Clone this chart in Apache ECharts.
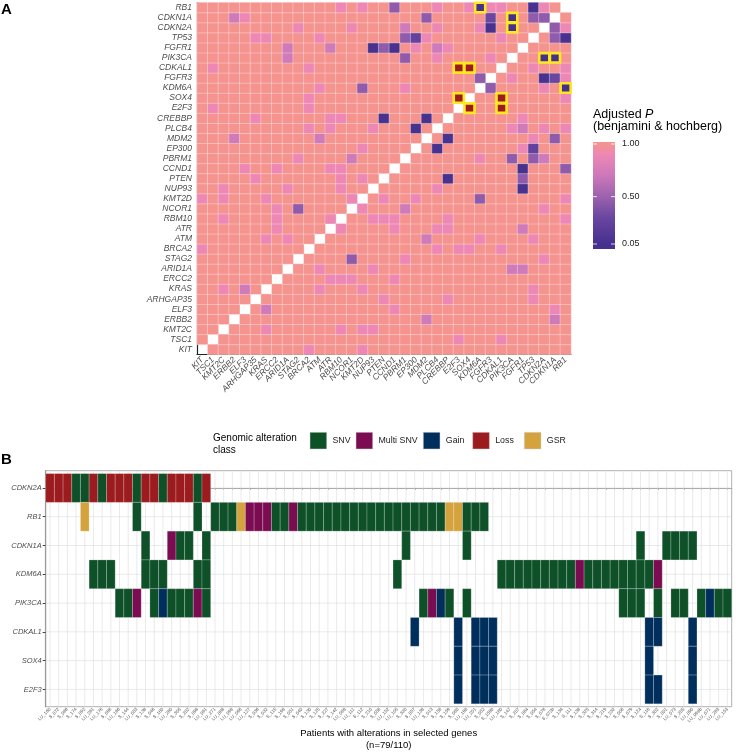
<!DOCTYPE html>
<html><head><meta charset="utf-8">
<script src="https://cdn.jsdelivr.net/npm/echarts@6/dist/echarts.min.js"></script>
<style>html,body{margin:0;padding:0;background:#fff}#c{width:736px;height:752px}</style>
</head><body><div id="c"></div>
<script>
// ---------- Panel A data ----------
const genes = ['RB1','CDKN1A','CDKN2A','TP53','FGFR1','PIK3CA','CDKAL1','FGFR3','KDM6A','SOX4','E2F3','CREBBP','PLCB4','MDM2','EP300','PBRM1','CCND1','PTEN','NUP93','KMT2D','NCOR1','RBM10','ATR','ATM','BRCA2','STAG2','ARID1A','ERCC2','KRAS','ARHGAP35','ELF3','ERBB2','KMT2C','TSC1','KIT'];
// adjusted P for gene pairs (all other pairs = 1.00)
const pairValues = [
 ['RB1','RBM10',0.9],['RB1','KMT2D',0.9],['RB1','CCND1',0.45],['RB1','PLCB4',0.9],['RB1','SOX4',0.9],['RB1','KDM6A',0.05],['RB1','FGFR3',0.9],['RB1','CDKAL1',0.9],['RB1','TP53',0.07],['RB1','CDKN2A',0.9],
 ['CDKN1A','ERBB2',0.72],['CDKN1A','ELF3',0.9],['CDKN1A','MDM2',0.45],['CDKN1A','FGFR3',0.3],['CDKN1A','PIK3CA',0.05],['CDKN1A','TP53',0.45],['CDKN1A','CDKN2A',0.45],
 ['CDKN2A','STAG2',0.9],['CDKN2A','NCOR1',0.9],['CDKN2A','PBRM1',0.72],['CDKN2A','PLCB4',0.9],['CDKN2A','KDM6A',0.9],['CDKN2A','FGFR3',0.07],['CDKN2A','PIK3CA',0.05],
 ['TP53','ARHGAP35',0.9],['TP53','KRAS',0.9],['TP53','ATM',0.9],['TP53','PBRM1',0.45],['TP53','EP300',0.25],['TP53','MDM2',0.9],['TP53','CDKAL1',0.9],
 ['FGFR1','ARID1A',0.72],['FGFR1','ATR',0.72],['FGFR1','NUP93',0.07],['FGFR1','PTEN',0.45],['FGFR1','CCND1',0.07],['FGFR1','EP300',0.9],['FGFR1','PLCB4',0.72],['FGFR1','CREBBP',0.9],
 ['PIK3CA','ARID1A',0.72],['PIK3CA','PBRM1',0.45],['PIK3CA','PLCB4',0.9],['PIK3CA','FGFR3',0.9],
 ['CDKAL1','TSC1',0.9],['CDKAL1','BRCA2',0.9],['CDKAL1','E2F3',0.01],['CDKAL1','SOX4',0.01],
 ['FGFR3','KDM6A',0.45],
 ['KDM6A','ATM',0.9],['KDM6A','KMT2D',0.45],['KDM6A','PBRM1',0.9],
 ['SOX4','BRCA2',0.9],['SOX4','E2F3',0.01],
 ['E2F3','TSC1',0.9],['E2F3','BRCA2',0.9],
 ['CREBBP','ARHGAP35',0.9],['CREBBP','ATR',0.9],['CREBBP','RBM10',0.9],['CREBBP','PTEN',0.07],['CREBBP','MDM2',0.07],
 ['PLCB4','BRCA2',0.9],['PLCB4','ATR',0.9],['PLCB4','NUP93',0.9],['PLCB4','EP300',0.07],
 ['MDM2','ERBB2',0.72],['MDM2','ATM',0.72],
 ['EP300','KMT2D',0.9],
 ['PBRM1','STAG2',0.9],['PBRM1','NCOR1',0.72],
 ['CCND1','ELF3',0.9],['CCND1','ERCC2',0.9],['CCND1','RBM10',0.9],['CCND1','ATR',0.9],
 ['PTEN','ARHGAP35',0.9],['PTEN','RBM10',0.9],['PTEN','KMT2D',0.9],
 ['NUP93','KMT2C',0.9],['NUP93','ARID1A',0.9],['NUP93','RBM10',0.9],
 ['KMT2D','KIT',0.9],['KMT2D','NCOR1',0.9],['KMT2D','KMT2C',0.9],['KMT2D','KRAS',0.9],
 ['NCOR1','STAG2',0.45],['NCOR1','ERCC2',0.9],
 ['RBM10','ATR',0.9],['RBM10','ERCC2',0.9],['RBM10','KMT2C',0.9],
 ['ATR','ERCC2',0.9],
 ['ATM','KRAS',0.9],['ATM','ARID1A',0.9],
 ['BRCA2','KIT',0.9],
 ['KRAS','KMT2C',0.9],['KRAS','ELF3',0.72]
];
const coOccurPairs = [['CDKAL1','E2F3'],['CDKAL1','SOX4'],['SOX4','E2F3']];
const boxedPairs = [['RB1','KDM6A'],['CDKN1A','PIK3CA'],['CDKN2A','PIK3CA'],['CDKAL1','E2F3'],['CDKAL1','SOX4'],['SOX4','E2F3']];
const legendTicks = [1.00, 0.50, 0.05];

// ---------- Panel B data ----------
const oncoGenes = ['CDKN2A','RB1','CDKN1A','KDM6A','PIK3CA','CDKAL1','SOX4','E2F3'];
const altClasses = ['SNV','Multi SNV','Gain','Loss','GSR'];
const patients = ['LU_160','S_072','S_086','S_174','S_092','LU_261','LU_178','S_098','LU_166','S_144','LU_053','S_138','S_046','S_180','LU_260','S_305','S_202','S_096','LU_061','LU_271','LU_086','LU_098','LU_096','LU_127','S_036','S_032','S_115','S_198','S_051','S_040','S_130','S_125','S_227','S_142','LU_088','LU_111','S_112','S_210','S_056','LU_152','LU_105','S_320','S_057','LU_138','S_013','S_156','S_159','S_080','LU_196','LU_201','S_052','S_159b','LU_180','S_147','S_207','S_064','S_054','S_078','S_072b','S_134','S_111','S_136','S_325','S_314','S_219','S_232','S_006','S_079','S_124','S_118','S_302','S_001','LU_073','S_205','LU_090','LU_098b','LU_071','LU_263','LU_153'];
const altCDKN2A = [[0,'Loss'],[1,'Loss'],[2,'Loss'],[3,'SNV'],[4,'SNV'],[5,'Loss'],[6,'SNV'],[7,'Loss'],[8,'Loss'],[9,'Loss'],[10,'SNV'],[11,'Loss'],[12,'Loss'],[13,'SNV'],[14,'Loss'],[15,'Loss'],[16,'Loss'],[17,'SNV'],[18,'Loss']];
const altRB1 = [[4,'GSR'],[10,'SNV'],[17,'SNV'],[19,'SNV'],[20,'SNV'],[21,'SNV'],[22,'GSR'],[23,'Multi SNV'],[24,'Multi SNV'],[25,'Multi SNV'],[26,'SNV'],[27,'SNV'],[28,'Multi SNV'],[29,'SNV'],[30,'SNV'],[31,'SNV'],[32,'SNV'],[33,'SNV'],[34,'SNV'],[35,'SNV'],[36,'SNV'],[37,'SNV'],[38,'SNV'],[39,'SNV'],[40,'SNV'],[41,'SNV'],[42,'SNV'],[43,'SNV'],[44,'SNV'],[45,'SNV'],[46,'GSR'],[47,'GSR'],[48,'SNV'],[49,'SNV'],[50,'SNV']];
const altCDKN1A = [[11,'SNV'],[14,'Multi SNV'],[15,'SNV'],[16,'SNV'],[18,'SNV'],[41,'SNV'],[48,'SNV'],[68,'SNV'],[71,'SNV'],[72,'SNV'],[73,'SNV'],[74,'SNV']];
const altKDM6A = [[5,'SNV'],[6,'SNV'],[7,'SNV'],[11,'SNV'],[12,'SNV'],[13,'SNV'],[17,'SNV'],[18,'SNV'],[40,'SNV'],[52,'SNV'],[53,'SNV'],[54,'SNV'],[55,'SNV'],[56,'SNV'],[57,'SNV'],[58,'SNV'],[59,'SNV'],[60,'SNV'],[61,'Multi SNV'],[62,'SNV'],[63,'SNV'],[64,'SNV'],[65,'SNV'],[66,'SNV'],[67,'SNV'],[68,'SNV'],[69,'SNV'],[70,'Multi SNV']];
const altPIK3CA = [[8,'SNV'],[9,'SNV'],[10,'Multi SNV'],[12,'SNV'],[13,'Gain'],[14,'SNV'],[15,'SNV'],[16,'SNV'],[17,'Multi SNV'],[18,'SNV'],[43,'SNV'],[44,'Multi SNV'],[45,'Gain'],[46,'SNV'],[48,'SNV'],[66,'SNV'],[67,'SNV'],[68,'SNV'],[70,'SNV'],[72,'SNV'],[73,'SNV'],[75,'SNV'],[76,'Gain'],[77,'SNV'],[78,'SNV']];
const altCDKAL1 = [[42,'Gain'],[47,'Gain'],[49,'Gain'],[50,'Gain'],[51,'Gain'],[69,'Gain'],[70,'Gain'],[74,'Gain']];
const altSOX4 = [[47,'Gain'],[49,'Gain'],[50,'Gain'],[51,'Gain'],[69,'Gain'],[74,'Gain']];
const altE2F3 = [[47,'Gain'],[49,'Gain'],[50,'Gain'],[51,'Gain'],[69,'Gain'],[70,'Gain'],[74,'Gain']];

// ---------- build ----------
const FONT = "'Liberation Sans', Arial, Helvetica, sans-serif";
const classColor = {'SNV':'#0E5129','Multi SNV':'#7B0C52','Gain':'#002F5E','Loss':'#9B1B1F','GSR':'#D4A33D'};
const colorStops = [[0.05,'#45308F'],[0.3,'#6A46A0'],[0.5,'#9C62AE'],[0.7,'#CC78BA'],[0.9,'#ED88B4'],[1.0,'#F5938F']];
function hex2rgb(h){return [parseInt(h.substr(1,2),16),parseInt(h.substr(3,2),16),parseInt(h.substr(5,2),16)];}
function interp(p){
  if(p<=colorStops[0][0]) return colorStops[0][1];
  for(let i=1;i<colorStops.length;i++){
    if(p<=colorStops[i][0]){
      const [p0,c0]=colorStops[i-1],[p1,c1]=colorStops[i];
      const t=(p-p0)/(p1-p0),a=hex2rgb(c0),b=hex2rgb(c1);
      return 'rgb('+a.map((v,k)=>Math.round(v+(b[k]-v)*t)).join(',')+')';
    }
  }
  return colorStops[colorStops.length-1][1];
}
const vmColors=[];for(let i=0;i<=95;i++)vmColors.push(interp(0.05+0.95*i/95));

const axisGenes = genes.slice().reverse();
const ai = g => axisGenes.indexOf(g);
const valMap = {};
pairValues.forEach(([a,b,v])=>{valMap[a+'|'+b]=v;valMap[b+'|'+a]=v;});
const heatData=[];
for(let x=0;x<axisGenes.length;x++)for(let y=0;y<axisGenes.length;y++){
  if(x===y)continue;
  const k=axisGenes[y]+'|'+axisGenes[x];
  heatData.push([x,y,valMap[k]!==undefined?valMap[k]:1]);
}
const coKey={};coOccurPairs.forEach(([a,b])=>{coKey[a+'|'+b]=1;coKey[b+'|'+a]=1;});
const overlayData=[];
boxedPairs.forEach(([a,b])=>{
  const red=coKey[a+'|'+b]?1:0;
  overlayData.push([ai(b),ai(a),red]);overlayData.push([ai(a),ai(b),red]);
});

const altByGene={CDKN2A:altCDKN2A,RB1:altRB1,CDKN1A:altCDKN1A,KDM6A:altKDM6A,PIK3CA:altPIK3CA,CDKAL1:altCDKAL1,SOX4:altSOX4,E2F3:altE2F3};
const oncoData=[];
oncoGenes.forEach((g,i)=>altByGene[g].forEach(([j,c])=>oncoData.push([j,i,altClasses.indexOf(c)])));
const patTicks=patients.map((_,j)=>j+0.5);
const geneTicks=oncoGenes.map((_,i)=>i);

// legend graphics
const legendX=593;
function yOfP(p){return 144+(1-p)/0.95*100;}
const barTop=142,barBot=249;
const gradStops=colorStops.map(([p,c])=>({offset:Math.min(1,Math.max(0,(yOfP(p)-barTop)/(barBot-barTop))),color:c})).sort((a,b)=>a.offset-b.offset);
const graphics=[
  {type:'text',left:1,top:2,style:{text:'A',font:'bold 15px '+FONT,fill:'#000'}},
  {type:'text',left:1,top:452,style:{text:'B',font:'bold 15px '+FONT,fill:'#000'}},
  {type:'text',x:legendX,y:115,style:{text:'{n|Adjusted }{i|P}',rich:{n:{font:'12.5px '+FONT,fill:'#000'},i:{font:'italic 12.5px '+FONT,fill:'#000'}},verticalAlign:'middle'}},
  {type:'text',x:legendX,y:127,style:{text:'(benjamini & hochberg)',font:'12.5px '+FONT,fill:'#000',verticalAlign:'middle'}},
  {type:'rect',shape:{x:legendX,y:barTop,width:22,height:barBot-barTop},style:{fill:{type:'linear',x:0,y:0,x2:0,y2:1,colorStops:gradStops}}}
];
legendTicks.forEach(p=>{
  const y=yOfP(p);
  graphics.push({type:'line',shape:{x1:legendX,y1:y,x2:legendX+4,y2:y},style:{stroke:'#fff',lineWidth:0.8}});
  graphics.push({type:'line',shape:{x1:legendX+18,y1:y,x2:legendX+22,y2:y},style:{stroke:'#fff',lineWidth:0.8}});
  graphics.push({type:'text',x:622,y:y,style:{text:p.toFixed(2),font:'9px '+FONT,fill:'#222',verticalAlign:'middle'}});
});
// bottom legend
graphics.push({type:'text',x:213,y:438,style:{text:'Genomic alteration',font:'10px '+FONT,fill:'#000',verticalAlign:'middle'}});
graphics.push({type:'text',x:213,y:450,style:{text:'class',font:'10px '+FONT,fill:'#000',verticalAlign:'middle'}});
const keyX=[310,356,423.3,472.7,524.3];
altClasses.forEach((c,i)=>{
  graphics.push({type:'rect',shape:{x:keyX[i],y:432.3,width:16.7,height:16.7},style:{fill:classColor[c],stroke:'#d0d0d0',lineWidth:0.5}});
  graphics.push({type:'text',x:keyX[i]+22.5,y:440.7,style:{text:c,font:'8.8px '+FONT,fill:'#222',verticalAlign:'middle'}});
});
graphics.push({type:'text',x:388.7,y:733,style:{text:'Patients with alterations in selected genes',font:'9.5px '+FONT,fill:'#000',align:'center',verticalAlign:'middle'}});
graphics.push({type:'text',x:388.7,y:745,style:{text:'(n=79/110)',font:'9.5px '+FONT,fill:'#000',align:'center',verticalAlign:'middle'}});

const option={
  animation:false,
  backgroundColor:'#fff',
  textStyle:{fontFamily:FONT},
  grid:[
    {left:197,top:2.5,width:374,height:352,containLabel:false},
    {left:45.7,top:470.7,width:686,height:236,show:true,borderColor:'#B0B0B0',borderWidth:1,backgroundColor:'#fff'}
  ],
  xAxis:[
    {type:'category',gridIndex:0,data:axisGenes,axisLine:{lineStyle:{color:'#222',width:1.2}},axisTick:{alignWithLabel:true,length:3,lineStyle:{color:'#333'}},
     axisLabel:{interval:0,rotate:45,fontSize:8.5,fontStyle:'italic',color:'#4D4D4D',margin:4,fontFamily:FONT},splitLine:{show:false}},
    {type:'value',gridIndex:1,min:0,max:patients.length,axisLine:{show:true,lineStyle:{color:'#9A9A9A',width:1.2}},
     axisTick:{show:true,length:2,customValues:patTicks,lineStyle:{color:'#666',width:0.5}},
     axisLabel:{customValues:patTicks,rotate:45,fontSize:4.5,color:'#4D4D4D',margin:2,fontFamily:FONT,formatter:v=>patients[Math.round(v-0.5)]||''},splitLine:{show:false}}
  ],
  yAxis:[
    {type:'category',gridIndex:0,data:axisGenes,axisLine:{lineStyle:{color:'#222',width:1.2}},axisTick:{alignWithLabel:true,length:3,lineStyle:{color:'#333'}},
     axisLabel:{interval:0,fontSize:8.5,fontStyle:'italic',color:'#4D4D4D',margin:5,fontFamily:FONT},splitLine:{show:false}},
    {type:'value',gridIndex:1,min:-0.6,max:oncoGenes.length-0.4,inverse:true,axisLine:{show:true,lineStyle:{color:'#9A9A9A',width:1.2}},
     axisTick:{show:true,length:3,customValues:geneTicks,lineStyle:{color:'#444'}},
     axisLabel:{customValues:geneTicks,fontSize:7.5,fontStyle:'italic',color:'#4D4D4D',margin:4,fontFamily:FONT,formatter:v=>oncoGenes[Math.round(v)]||''},splitLine:{show:false}}
  ],
  visualMap:{type:'continuous',show:false,min:0.05,max:1,seriesIndex:0,dimension:2,inRange:{color:vmColors}},
  series:[
    {type:'heatmap',xAxisIndex:0,yAxisIndex:0,data:heatData,itemStyle:{borderColor:'rgba(255,255,255,0.45)',borderWidth:0.7},emphasis:{disabled:true}},
    {type:'custom',xAxisIndex:0,yAxisIndex:0,data:overlayData,z:5,
     renderItem:(params,api)=>{
       const c=api.coord([api.value(0),api.value(1)]),s=api.size([1,1]);
       return {type:'rect',shape:{x:c[0]-s[0]/2+0.3,y:c[1]-s[1]/2+0.3,width:s[0]-0.6,height:s[1]-0.6},
         style:{fill:api.value(2)?'#9B1B1F':null,stroke:'#FFE81F',lineWidth:2.6}};
     }},
    {type:'custom',xAxisIndex:1,yAxisIndex:1,data:[[0]],z:1,silent:true,
     renderItem:(params,api)=>{
       const ch=[];
       patTicks.forEach(x=>{const a=api.coord([x,-0.6]),b=api.coord([x,oncoGenes.length-0.4]);ch.push({type:'line',shape:{x1:a[0],y1:a[1],x2:b[0],y2:b[1]},style:{stroke:'#DCDCDC',lineWidth:0.6}});});
       geneTicks.forEach(y=>{const a=api.coord([0,y]),b=api.coord([patients.length,y]);ch.push({type:'line',shape:{x1:a[0],y1:a[1],x2:b[0],y2:b[1]},style:{stroke:'#DCDCDC',lineWidth:0.6}});});
       return {type:'group',children:ch};
     }},
    {type:'custom',xAxisIndex:1,yAxisIndex:1,data:oncoData,z:3,
     renderItem:(params,api)=>{
       const j=api.value(0),i=api.value(1),k=api.value(2);
       const a=api.coord([j,i-0.5]),b=api.coord([j+1,i+0.5]);
       return {type:'rect',shape:{x:Math.min(a[0],b[0]),y:Math.min(a[1],b[1]),width:Math.abs(b[0]-a[0]),height:Math.abs(b[1]-a[1])},
         style:{fill:classColor[altClasses[k]],stroke:'rgba(255,255,255,0.35)',lineWidth:0.6}};
     }}
  ],
  graphic:graphics
};
const chart=echarts.init(document.getElementById('c'));
chart.setOption(option);
</script></body></html>
